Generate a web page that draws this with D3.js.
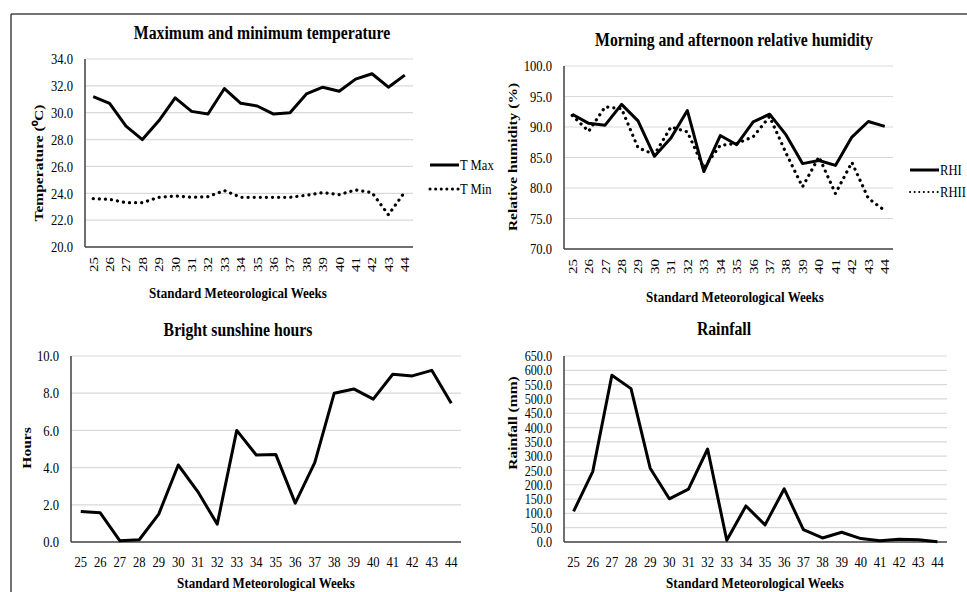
<!DOCTYPE html>
<html>
<head>
<meta charset="utf-8">
<script src="https://cdn.jsdelivr.net/npm/d3@7"></script>
<style>
  body { margin: 0; background: #fff; }
  text { font-family: "Liberation Serif", "Times New Roman", serif; fill: #000; }
</style>
</head>
<body>
<script>
// weeks and series
var weeks = [25,26,27,28,29,30,31,32,33,34,35,36,37,38,39,40,41,42,43,44];
var tMax = [31.2,30.7,29.0,28.0,29.4,31.1,30.1,29.9,31.8,30.7,30.5,29.9,30.0,31.4,31.9,31.6,32.5,32.9,31.9,32.8];
var tMin = [23.6,23.55,23.3,23.3,23.7,23.8,23.7,23.75,24.2,23.7,23.7,23.7,23.7,23.85,24.05,23.9,24.25,24.05,22.4,24.1];
var rhI  = [92.1,90.6,90.3,93.7,91.0,85.2,88.2,92.7,82.7,88.6,87.1,90.85,92.1,88.7,84.0,84.5,83.7,88.35,90.9,90.1];
var rhII = [91.9,89.3,93.3,93.0,86.6,85.5,90.0,89.2,83.3,87.0,87.3,88.4,91.7,85.7,80.2,85.1,79.1,84.2,78.3,76.3];
var sunshine = [1.64,1.57,0.07,0.12,1.5,4.14,2.71,0.96,6.0,4.68,4.71,2.09,4.27,8.0,8.23,7.68,9.02,8.93,9.23,7.46];
var rainfall = [107,246,583,536,258,151,185,325,6,126,60,186,43,14,34,12,4,10,8,1];

var svg = d3.select("body").append("svg")
    .attr("width", 967)
    .attr("height", 592);

// the source image is a bit taller than wide, so text gets squeezed
var SX = 0.9, SY = 1.07;

function place(sel, x, y, extra) {
    sel.attr("transform", "translate(" + x + "," + y + ") scale(" + SX + "," + SY + ")" + (extra || ""));
}

// outer frame (top and left edges visible)
svg.append("line").attr("x1",11).attr("x2",967).attr("y1",14).attr("y2",14)
    .attr("stroke","#444").attr("stroke-width",1.5);
svg.append("line").attr("x1",11).attr("x2",11).attr("y1",14).attr("y2",592)
    .attr("stroke","#444").attr("stroke-width",1.5);

function drawPanel(p) {
    var x = d3.scaleBand().domain(weeks).range([p.left, p.right]);
    var y = d3.scaleLinear().domain(p.domain).range([p.bottom, p.top]);
    var ticks = d3.range(p.domain[0], p.domain[1] + p.step/2, p.step);

    var g = svg.append("g");

    // gridlines
    g.selectAll(".grid").data(ticks.slice(1)).enter().append("line")
        .attr("x1", p.left).attr("x2", p.right)
        .attr("y1", function(d){ return y(d); })
        .attr("y2", function(d){ return y(d); })
        .attr("stroke", "#d9d9d9").attr("stroke-width", 1.2);

    // y tick labels
    g.selectAll(".ytick").data(ticks).enter().append("text")
        .attr("dy", "0.35em")
        .attr("text-anchor", "end")
        .style("font-size", (p.tickSize || 14) + "px")
        .text(function(d){ return d.toFixed(1); })
        .each(function(d){ place(d3.select(this), p.left - 12, y(d)); });

    // axis lines
    g.append("line").attr("x1", p.left).attr("x2", p.left)
        .attr("y1", p.top).attr("y2", p.bottom)
        .attr("stroke", "#404040").attr("stroke-width", 1.5);
    g.append("line").attr("x1", p.left).attr("x2", p.right)
        .attr("y1", p.bottom).attr("y2", p.bottom)
        .attr("stroke", "#404040").attr("stroke-width", 1.5);

    // x tick labels
    var xl = g.selectAll(".xtick").data(weeks).enter().append("text")
        .style("font-size", "14px")
        .attr("dy", "0.35em")
        .text(function(d){ return d; });
    if (p.rotate) {
        xl.attr("text-anchor", "end")
          .each(function(d){
              place(d3.select(this), x(d) + x.bandwidth()/2, p.bottom + 10, " rotate(-90)");
          });
    } else {
        xl.attr("text-anchor", "middle")
          .each(function(d){
              place(d3.select(this), x(d) + x.bandwidth()/2, p.bottom + 20);
          });
    }

    // series
    var line = d3.line()
        .x(function(d, i){ return x(weeks[i]) + x.bandwidth()/2; })
        .y(function(d){ return y(d); });
    p.series.forEach(function(s){
        g.append("path").datum(s.values)
            .attr("d", line)
            .attr("fill", "none")
            .attr("stroke", "#000")
            .attr("stroke-width", s.dotted ? 3.2 : 3)
            .attr("stroke-linejoin", "round")
            .attr("stroke-linecap", s.dotted ? "round" : "butt")
            .attr("stroke-dasharray", s.dotted ? "0.1,6" : null);
    });

    // titles
    var t = g.append("text")
        .attr("text-anchor", "middle")
        .attr("dy", "0.35em")
        .style("font-size", "17.5px").style("font-weight", "bold")
        .text(p.title);
    place(t, p.titleX, p.titleY);
    var xt = g.append("text")
        .attr("text-anchor", "middle")
        .attr("dy", "0.35em")
        .style("font-size", "14.5px").style("font-weight", "bold")
        .text("Standard Meteorological Weeks");
    place(xt, p.xTitleX, p.xTitleY);
    var yt = g.append("text")
        .attr("text-anchor", "middle")
        .attr("dy", "0.35em")
        .style("font-size", "14.5px").style("font-weight", "bold")
        .text(p.yTitle);
    place(yt, p.yTitleX, p.yTitleY, " rotate(-90)");

    // legend
    if (p.legend) {
        p.series.forEach(function(s, i){
            var ly = p.legend.y + i * p.legend.gap;
            g.append("line")
                .attr("x1", p.legend.x).attr("x2", p.legend.x + 29)
                .attr("y1", ly).attr("y2", ly)
                .attr("stroke", "#000")
                .attr("stroke-width", s.dotted ? p.legend.dot : 3)
                .attr("stroke-linecap", s.dotted ? "round" : "butt")
                .attr("stroke-dasharray", s.dotted ? p.legend.dash : null);
            var lt = g.append("text")
                .attr("dy", "0.35em")
                .style("font-size", "14px")
                .text(s.name);
            place(lt, p.legend.x + 30, ly);
        });
    }
}

drawPanel({
    left: 85, right: 413, top: 59, bottom: 247,
    domain: [20, 34], step: 2, rotate: true,
    title: "Maximum and minimum temperature", titleX: 262, titleY: 32,
    xTitleX: 238, xTitleY: 293,
    yTitle: "Temperature (\u2070C)", yTitleX: 38, yTitleY: 163,
    series: [{name: "T Max", values: tMax}, {name: "T Min", values: tMin, dotted: true}],
    legend: {x: 430, y: 165, gap: 24, dot: 3, dash: "0.1,5.5"}
});

drawPanel({
    left: 564, right: 893, top: 66, bottom: 249,
    domain: [70, 100], step: 5, rotate: true,
    title: "Morning and afternoon relative humidity", titleX: 734, titleY: 39,
    xTitleX: 735, xTitleY: 297,
    yTitle: "Relative humidity (%)", yTitleX: 512, yTitleY: 157,
    series: [{name: "RHI", values: rhI}, {name: "RHII", values: rhII, dotted: true}],
    legend: {x: 910, y: 170, gap: 22, dot: 2, dash: "0.1,4.5"}
});

drawPanel({
    left: 71, right: 461, top: 356, bottom: 542,
    domain: [0, 10], step: 2, rotate: false,
    title: "Bright sunshine hours", titleX: 238, titleY: 329,
    xTitleX: 266, xTitleY: 583,
    yTitle: "Hours", yTitleX: 26, yTitleY: 448,
    series: [{name: "Hours", values: sunshine}]
});

drawPanel({
    left: 564, right: 947, top: 356, bottom: 542,
    domain: [0, 650], step: 50, rotate: false, tickSize: 13.5,
    title: "Rainfall", titleX: 724, titleY: 328,
    xTitleX: 755, xTitleY: 583,
    yTitle: "Rainfall (mm)", yTitleX: 512, yTitleY: 423,
    series: [{name: "Rainfall", values: rainfall}]
});
</script>
</body>
</html>
